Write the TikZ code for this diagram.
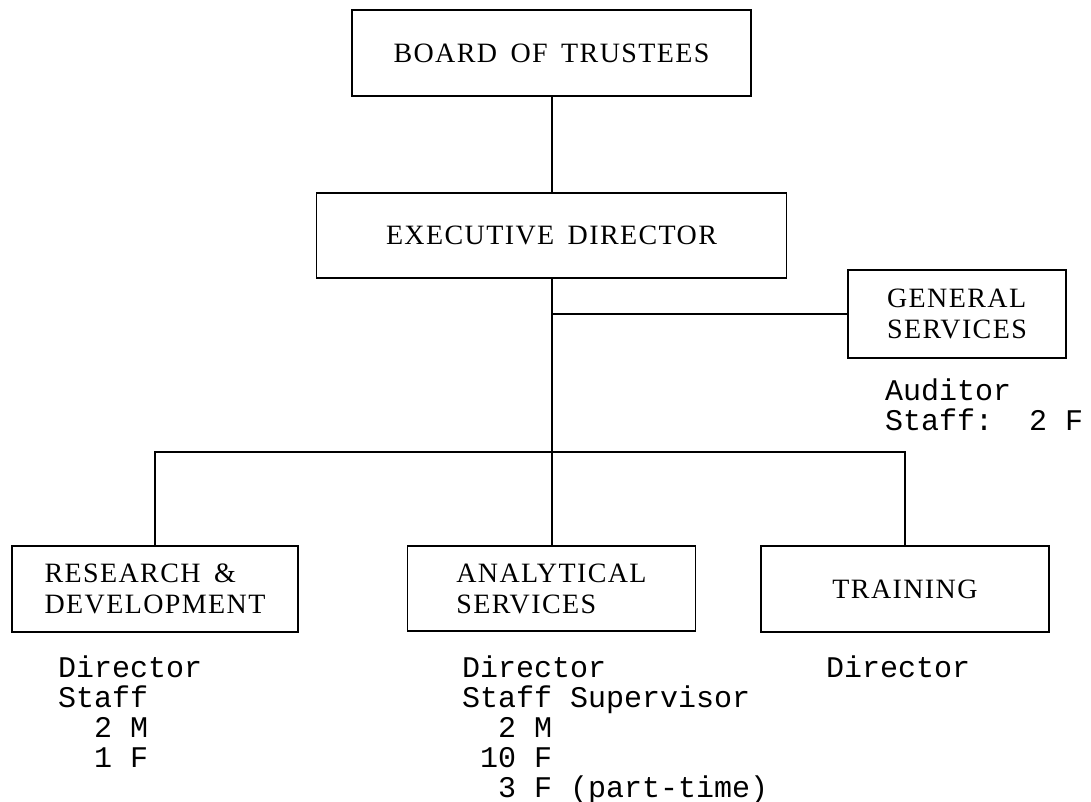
\documentclass[tikz,border=0pt]{standalone}
\usepackage{fontspec}
\setmainfont{Liberation Serif}
\setmonofont{Liberation Mono}
\newfontfamily\boxfont[LetterSpace=5,WordSpace=1.6]{Liberation Serif}
\begin{document}
\begin{tikzpicture}[x=1pt,y=-1pt,
  orgbox/.style={draw, line width=1.5pt, rectangle, inner sep=0pt, align=left,
    font=\boxfont\fontsize{28}{31}\selectfont},
  conn/.style={line width=2pt, line join=miter},
  info/.style={inner sep=0pt, align=left, anchor=base west,
    font=\ttfamily\fontsize{30}{30}\selectfont}]
\useasboundingbox[fill=white] (0,0) rectangle (1091,802);

\node[orgbox, minimum width=399pt, minimum height=86pt] (board) at (551.5,53) {BOARD OF TRUSTEES};
\node[orgbox, minimum width=470pt, minimum height=85pt] (exec) at (551.5,235.5) {EXECUTIVE DIRECTOR};
\node[orgbox, minimum width=218pt, minimum height=88pt] (gs) at (957,314) {GENERAL\\SERVICES};
\node[orgbox, minimum width=286pt, minimum height=86pt] (rd) at (155,589) {RESEARCH \&\\DEVELOPMENT};
\node[orgbox, minimum width=288pt, minimum height=85pt] (an) at (551.5,588.5) {ANALYTICAL\\SERVICES};
\node[orgbox, minimum width=288pt, minimum height=86pt] (tr) at (905,589) {TRAINING};

\coordinate (hub) at (551.5,452);

\draw[conn] (board.south) -- (exec.north);
\draw[conn] (exec.south) -- (hub);
\draw[conn] (gs.west) -- (gs.west -| hub);
\draw[conn] (rd.north) -- (rd.north |- hub) -- (tr.north |- hub) -- (tr.north);
\draw[conn] (hub) -- (an.north);

% anchor base west = baseline of the last line
\node[info] (gsinfo) at (885,430) {Auditor\\Staff:\ \ 2 F};
\node[info] (rdinfo) at (58,767) {Director\\Staff\\\phantom{00}2 M\\\phantom{00}1 F};
\node[info] (aninfo) at (462,797) {Director\\Staff Supervisor\\\phantom{00}2 M\\\phantom{0}10 F\\\phantom{00}3 F (part-time)};
\node[info] (trinfo) at (826,677) {Director};
\end{tikzpicture}
\end{document}
